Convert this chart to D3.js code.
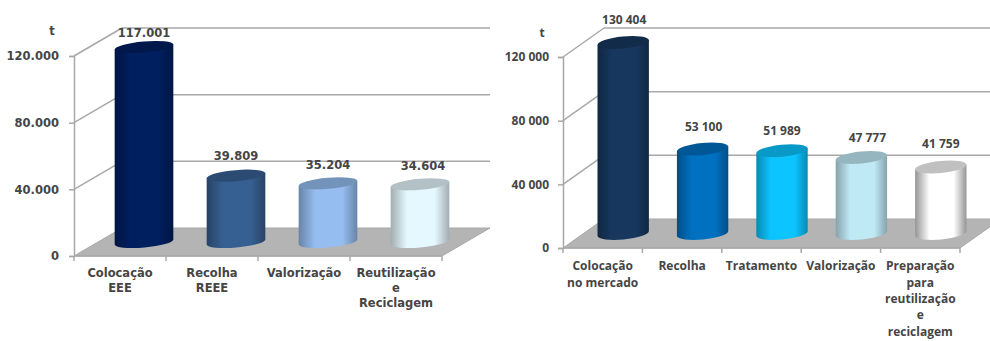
<!DOCTYPE html>
<html>
<head>
<meta charset="utf-8">
<script src="https://cdn.jsdelivr.net/npm/d3@7"></script>
<style>
  html, body { margin: 0; padding: 0; background: #fff; }
  svg { display: block; }
</style>
</head>
<body>
<svg id="chart" width="990" height="341"></svg>
<script>
// Flows of electrical and electronic equipment, in tonnes
const leftCategories = [["Colocação", "EEE"], ["Recolha", "REEE"], ["Valorização"], ["Reutilização", "e", "Reciclagem"]];
const leftValues = [117001, 39809, 35204, 34604];
const leftValueLabels = ["117.001", "39.809", "35.204", "34.604"];
const leftTicks = [0, 40000, 80000, 120000];
const leftTickLabels = ["0", "40.000", "80.000", "120.000"];
const leftColors = ["#001f5f", "#376092", "#95bdf0", "#e6f8ff"];

const rightCategories = [["Colocação", "no mercado"], ["Recolha"], ["Tratamento"], ["Valorização"], ["Preparação", "para", "reutilização", "e", "reciclagem"]];
const rightValues = [130404, 53100, 51989, 47777, 41759];
const rightValueLabels = ["130 404", "53 100", "51 989", "47 777", "41 759"];
const rightTicks = [0, 40000, 80000, 120000];
const rightTickLabels = ["0", "40 000", "80 000", "120 000"];
const rightColors = ["#17375e", "#0070c0", "#0cc4ff", "#bfe9f5", "#ffffff"];

// Offsets of each value label from the top of its cylinder
const leftLabelLift = [14, 20, 18, 18];
const leftLabelShift = [0, 0, 0, 3];
const rightLabelLift = [23, 22, 20, 20, 23];
const rightLabelShift = [1, 1, 0, 6, 0];

const svg = d3.select("#chart");
const defs = svg.append("defs");
const GRID = "#a8a8a8", FLOOR = "#b4b4b4", TEXT = "#454545";

function drawPanel(p) {
  const g = svg.append("g").attr("class", p.id);
  const x = d3.scaleBand().domain(d3.range(p.categories.length)).range([p.x0, p.x1]);
  // Values beyond the top of the axis stop at the axis maximum
  const y = d3.scaleLinear().domain([0, d3.max(p.ticks)]).range([p.y0, p.y1]).clamp(true);

  // Floor
  g.append("path")
    .attr("d", `M${p.x0},${y(0)}L${p.x0 + p.dx},${y(0) + p.dy}L${p.x1 + p.dx},${y(0) + p.dy}L${p.x1},${y(0)}Z`)
    .attr("fill", FLOOR).attr("stroke", GRID).attr("stroke-width", 1);

  // Back-wall gridlines and the slanted side-wall lines
  const upper = p.ticks.filter(t => t > 0);
  g.selectAll("line.grid").data(upper).join("line").attr("class", "grid")
    .attr("x1", p.x0 + p.dx).attr("x2", p.x1 + p.dx)
    .attr("y1", t => y(t) + p.dy).attr("y2", t => y(t) + p.dy)
    .attr("stroke", GRID).attr("stroke-width", 1.5);
  g.selectAll("line.side").data(upper).join("line").attr("class", "side")
    .attr("x1", p.x0).attr("x2", p.x0 + p.dx)
    .attr("y1", t => y(t)).attr("y2", t => y(t) + p.dy)
    .attr("stroke", GRID).attr("stroke-width", 1.5);

  // Value axis
  const axis = d3.axisLeft(y).tickValues(p.ticks).tickSize(5).tickPadding(p.tickPad)
    .tickFormat(t => p.tickLabels[p.ticks.indexOf(t)]);
  const ag = g.append("g").attr("transform", `translate(${p.x0},0)`).call(axis);
  ag.selectAll("path, line").attr("stroke", GRID).attr("stroke-width", 1.5);
  ag.selectAll("text").attr("font-family", p.font).attr("font-size", p.size)
    .attr("font-weight", p.weight).attr("fill", TEXT);

  // Category axis, with ticks on the band edges
  g.append("line").attr("x1", p.x0).attr("x2", p.x1).attr("y1", y(0)).attr("y2", y(0))
    .attr("stroke", GRID).attr("stroke-width", 1.5);
  const edges = d3.range(p.categories.length + 1);
  g.selectAll("line.cat").data(edges).join("line").attr("class", "cat")
    .attr("x1", i => p.x0 + i * x.step()).attr("x2", i => p.x0 + i * x.step())
    .attr("y1", y(0)).attr("y2", y(0) + 5)
    .attr("stroke", GRID).attr("stroke-width", 1.5);

  // Cylinders stand halfway into the floor's depth
  const rx = x.step() * p.barShare / 2;
  const rad = p.tilt * Math.PI / 180;
  const ex = rx * Math.cos(rad), ey = rx * Math.sin(rad);
  const bars = g.selectAll("g.bar").data(p.values).join("g").attr("class", "bar");

  p.colors.forEach((c, i) => {
    const grad = defs.append("linearGradient").attr("id", `${p.id}-g${i}`);
    const edge = d3.color(c).darker(c === "#ffffff" ? 1.5 : 1).formatHex();
    [[0, edge], [0.28, c], [0.75, c], [1, edge]].forEach(([o, col]) =>
      grad.append("stop").attr("offset", o).attr("stop-color", col));
  });

  const cx = (d, i) => x(i) + x.bandwidth() / 2 + p.dx / 2;
  const topY = d => y(d) + p.dy / 2;
  const baseY = y(0) + p.dy / 2;

  bars.append("path")
    .attr("d", (d, i) => {
      const c = cx(d, i), t = topY(d);
      return `M${c - ex},${t + ey}L${c - ex},${baseY + ey}` +
        `A${rx},${p.ry} ${-p.tilt} 0 0 ${c + ex},${baseY - ey}` +
        `L${c + ex},${t - ey}Z`;
    })
    .attr("fill", (d, i) => `url(#${p.id}-g${i})`);

  bars.append("ellipse")
    .attr("rx", rx).attr("ry", p.ry)
    .attr("transform", (d, i) => `translate(${cx(d, i)},${topY(d)}) rotate(${-p.tilt})`)
    .attr("fill", (d, i) => d3.color(p.colors[i]).darker(p.colors[i] === "#ffffff" ? 0.8 : 0.7).formatHex());

  // Value labels
  g.selectAll("text.value").data(p.values).join("text").attr("class", "value")
    .attr("x", (d, i) => cx(d, i) + p.shift[i])
    .attr("y", (d, i) => topY(d) - p.lift[i])
    .attr("dy", "0.35em")
    .attr("text-anchor", "middle")
    .attr("font-family", p.font).attr("font-size", p.size).attr("font-weight", p.weight)
    .attr("fill", TEXT)
    .text((d, i) => p.valueLabels[i]);

  // Category labels, one line per row
  g.selectAll("text.cat").data(p.categories).join("text").attr("class", "cat")
    .attr("font-family", p.font).attr("font-size", p.size).attr("font-weight", p.weight)
    .attr("fill", TEXT).attr("text-anchor", "middle")
    .each(function (lines, i) {
      d3.select(this).selectAll("tspan").data(lines).join("tspan")
        .attr("x", x(i) + x.bandwidth() / 2)
        .attr("y", (l, k) => p.catY + k * p.catStep)
        .attr("dy", "0.35em")
        .text(l => l);
    });

  // Unit
  g.append("text").attr("x", p.unitX).attr("y", p.unitY).attr("dy", "0.35em")
    .attr("text-anchor", "middle")
    .attr("font-family", p.font).attr("font-size", p.size).attr("font-weight", "bold")
    .attr("fill", TEXT).text("t");
}

drawPanel({
  id: "left", categories: leftCategories, values: leftValues, valueLabels: leftValueLabels,
  ticks: leftTicks, tickLabels: leftTickLabels, colors: leftColors, lift: leftLabelLift, shift: leftLabelShift,
  x0: 74, x1: 442, y0: 256, y1: 56, dx: 48, dy: -28, tickPad: 10,
  barShare: 0.64, ry: 5.5, tilt: 5,
  font: "'DejaVu Sans', sans-serif", size: 11.5, weight: "bold",
  catY: 273, catStep: 15, unitX: 52, unitY: 31
});

drawPanel({
  id: "right", categories: rightCategories, values: rightValues, valueLabels: rightValueLabels,
  ticks: rightTicks, tickLabels: rightTickLabels, colors: rightColors, lift: rightLabelLift, shift: rightLabelShift,
  x0: 563, x1: 960, y0: 248, y1: 57, dx: 41, dy: -29, tickPad: 9,
  barShare: 0.65, ry: 6, tilt: 5.5,
  font: "'Open Sans', sans-serif", size: 12, weight: "bold",
  catY: 266, catStep: 16.4, unitX: 542, unitY: 33
});
</script>
</body>
</html>
